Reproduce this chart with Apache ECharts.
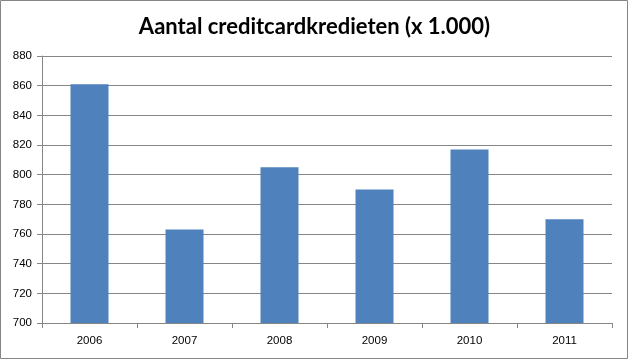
<!DOCTYPE html>
<html><head><meta charset="utf-8">
<script src="https://cdn.jsdelivr.net/npm/echarts@6/dist/echarts.min.js"></script>
<style>html,body{margin:0;padding:0;background:#fff}#c{width:629px;height:360px}</style>
</head><body><div id="c"></div>
<script>
var categories = ['2006','2007','2008','2009','2010','2011'];
var values = [861, 763, 805, 790, 817, 770];
var chartTitle = 'Aantal creditcardkredieten (x 1.000)';

var chart = echarts.init(document.getElementById('c'), null, {renderer:'canvas'});
chart.setOption({
  animation:false,
  backgroundColor:'#fff',
  title:{text:chartTitle,left:'center',top:11,
    textStyle:{fontFamily:'Lato',fontWeight:'bold',fontSize:22,color:'#000'}},
  grid:{left:42,right:17,top:56,bottom:37,containLabel:false},
  xAxis:{type:'category',data:categories,
    axisLine:{lineStyle:{color:'#868686'}},
    axisTick:{show:true,length:5,lineStyle:{color:'#868686'}},
    axisLabel:{color:'#000',fontFamily:'Liberation Sans',fontSize:11.5,margin:12}},
  yAxis:{type:'value',min:700,max:880,interval:20,
    axisLine:{show:true,lineStyle:{color:'#868686'}},
    axisTick:{show:true,length:5,lineStyle:{color:'#868686'}},
    splitLine:{lineStyle:{color:'#868686'}},
    axisLabel:{color:'#000',fontFamily:'Liberation Sans',fontSize:11.5,margin:10}},
  series:[{type:'bar',data:values,barWidth:'40%',itemStyle:{color:'#4F81BD'}}],
  graphic:[{type:'rect',shape:{x:0.5,y:0.5,width:627,height:358},
    style:{fill:'none',stroke:'#868686',lineWidth:1},silent:true}]
});
</script></body></html>
